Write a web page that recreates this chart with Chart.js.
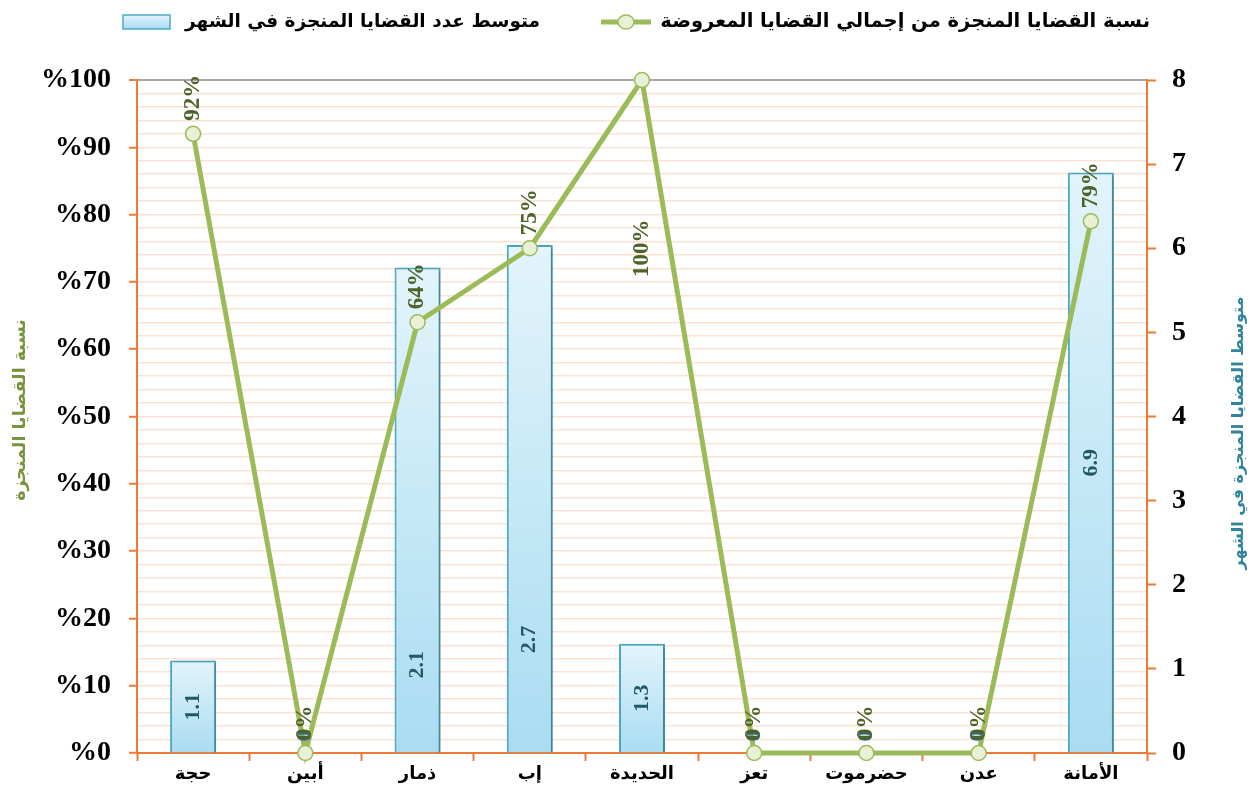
<!DOCTYPE html>
<html>
<head>
<meta charset="utf-8">
<script src="https://cdn.jsdelivr.net/npm/chart.js@4/dist/chart.umd.min.js"></script>
<style>
   html, body { margin: 0; padding: 0; background: #fff; }
   #wrap { width: 1255px; height: 791px; position: relative; }
</style>
</head>
<body>
<div id="wrap"><canvas id="chart"></canvas></div>
<script>
// dados
const categories = ['حجة', 'أبين', 'ذمار', 'إب', 'الحديدة', 'تعز', 'حضرموت', 'عدن', 'الأمانة'];
const completionRate = [92, 0, 64, 75, 100, 0, 0, 0, 79];          // %
const avgMonthly = [1.1, 0, 2.1, 2.7, 1.3, 0, 0, 0, 6.9];          // rótulos das barras
const barHeights = [1.1, 0, 5.77, 6.04, 1.3, 0, 0, 0, 6.9];        // altura desenhada das barras
const lineLegend = 'نسبة القضايا المنجزة من إجمالي القضايا المعروضة';
const barLegend = 'متوسط عدد القضايا المنجزة في الشهر';
const leftTitle = 'نسبة القضايا المنجزة';
const rightTitle = 'متوسط القضايا المنجزة في الشهر';

const ORANGE = '#EE7A36';
const GREEN = '#9BBB59';
const SERIF = "'Liberation Serif', 'Times New Roman', serif";
const ARABIC = "'DejaVu Sans', Arial, sans-serif";

function barGradient(ctx, top, bottom) {
   const g = ctx.createLinearGradient(0, top, 0, bottom);
   g.addColorStop(0, '#E3F4FB');
   g.addColorStop(1, '#A9DCF2');
   return g;
}

// ajusta o tamanho da fonte para caber na largura
function fitFont(ctx, text, width, weight, family, start) {
   let size = start;
   ctx.font = weight + ' ' + size + 'px ' + family;
   while (ctx.measureText(text).width > width && size > 8) {
      size -= 0.5;
      ctx.font = weight + ' ' + size + 'px ' + family;
   }
   return size;
}

const extras = {
   id: 'extras',
   beforeDatasetDraw(chart, args) {
      if (args.index === 0) {
         const ctx = chart.ctx;
         ctx.save();
         ctx.shadowColor = 'rgba(0,0,0,0.28)';
         ctx.shadowBlur = 4;
         ctx.shadowOffsetX = 2;
         ctx.shadowOffsetY = 1;
      }
   },
   afterDatasetDraw(chart, args) {
      if (args.index === 0) chart.ctx.restore();
   },
   afterDatasetsDraw(chart) {
      const ctx = chart.ctx;
      const y2 = chart.scales.y2;
      const area = chart.chartArea;

      // rótulos das barras
      const barMeta = chart.getDatasetMeta(0);
      ctx.save();
      ctx.direction = 'ltr';
      ctx.font = 'bold 22px ' + SERIF;
      ctx.textAlign = 'center';
      ctx.textBaseline = 'middle';
      barMeta.data.forEach((bar, i) => {
         const v = avgMonthly[i];
         let y = y2.getPixelForValue(v / 2);
         y = Math.min(y, area.bottom - 17);
         ctx.fillStyle = v === 0 ? '#2A6C86' : '#215968';
         ctx.save();
         ctx.translate(bar.x, y);
         ctx.rotate(-Math.PI / 2);
         ctx.fillText(v === 0 ? '0' : v.toFixed(1), 0, 0);
         ctx.restore();
      });

      // rótulos da linha
      const lineMeta = chart.getDatasetMeta(1);
      ctx.font = 'bold 23px ' + SERIF;
      ctx.fillStyle = '#4F6228';
      ctx.textAlign = 'left';
      lineMeta.data.forEach((pt, i) => {
         const text = completionRate[i] + '%';
         const w = ctx.measureText(text).width;
         let start = pt.y - 13;
         if (start - w < area.top - 10) start = pt.y + 197;
         ctx.save();
         ctx.translate(pt.x, start);
         ctx.rotate(-Math.PI / 2);
         ctx.fillText(text, 0, 0);
         ctx.restore();
      });
      ctx.restore();
   },
   afterDraw(chart) {
      const ctx = chart.ctx;
      ctx.save();
      ctx.textBaseline = 'middle';
      ctx.direction = 'rtl';

      // legenda: linha
      ctx.strokeStyle = GREEN;
      ctx.lineWidth = 5;
      ctx.beginPath();
      ctx.moveTo(601, 22);
      ctx.lineTo(651, 22);
      ctx.stroke();
      ctx.beginPath();
      ctx.ellipse(626, 22, 8, 7, 0, 0, Math.PI * 2);
      ctx.fillStyle = '#E8F0D6';
      ctx.fill();
      ctx.lineWidth = 1.5;
      ctx.stroke();
      fitFont(ctx, lineLegend, 492, 'bold', ARABIC, 24);
      ctx.fillStyle = '#000';
      ctx.textAlign = 'right';
      ctx.fillText(lineLegend, 1150, 22);

      // legenda: barra
      ctx.fillStyle = barGradient(ctx, 15, 29);
      ctx.fillRect(123, 15, 47, 14);
      ctx.strokeStyle = '#4BACC6';
      ctx.lineWidth = 1.5;
      ctx.strokeRect(123, 15, 47, 14);
      fitFont(ctx, barLegend, 360, 'bold', ARABIC, 24);
      ctx.fillStyle = '#000';
      ctx.fillText(barLegend, 540, 22);

      // títulos dos eixos
      ctx.textAlign = 'center';
      ctx.save();
      fitFont(ctx, leftTitle, 184, 'bold', ARABIC, 18);
      ctx.fillStyle = '#77933C';
      ctx.translate(20, 410);
      ctx.rotate(-Math.PI / 2);
      ctx.fillText(leftTitle, 0, 0);
      ctx.restore();
      ctx.save();
      fitFont(ctx, rightTitle, 275, 'bold', ARABIC, 18);
      ctx.fillStyle = '#31849B';
      ctx.translate(1239, 433);
      ctx.rotate(-Math.PI / 2);
      ctx.fillText(rightTitle, 0, 0);
      ctx.restore();
      ctx.restore();
   }
};

new Chart(document.getElementById('chart'), {
   data: {
      labels: categories,
      datasets: [{
         type: 'bar',
         data: barHeights,
         yAxisID: 'y2',
         order: 2,
         barPercentage: 0.41,
         categoryPercentage: 1,
         borderColor: '#4BACC6',
         borderWidth: ctx => (barHeights[ctx.dataIndex] === 0 ? 0 : 2),
         backgroundColor: ctx => {
            const chart = ctx.chart;
            const s = chart.scales.y2;
            if (!chart.chartArea || !s) return '#CDEBF7';
            const v = barHeights[ctx.dataIndex];
            return barGradient(chart.ctx, s.getPixelForValue(v), s.getPixelForValue(0));
         }
      }, {
         type: 'line',
         data: completionRate,
         yAxisID: 'y',
         order: 1,
         borderColor: GREEN,
         borderWidth: 5,
         tension: 0,
         pointRadius: 7.5,
         pointBorderWidth: 1.5,
         pointBorderColor: GREEN,
         pointBackgroundColor: '#E8F0D6',
         clip: false
      }]
   },
   options: {
      responsive: true,
      maintainAspectRatio: false,
      animation: false,
      layout: { padding: { top: 80, left: 0, right: 0, bottom: 0 } },
      plugins: {
         legend: { display: false },
         tooltip: { enabled: false }
      },
      scales: {
         x: {
            offset: true,
            afterFit: s => { s.height = 38; },
            border: { color: ORANGE, width: 2 },
            grid: {
               offset: true,
               drawOnChartArea: false,
               drawTicks: true,
               tickLength: 8,
               tickColor: ORANGE,
               tickWidth: 2
            },
            ticks: {
               color: '#000',
               padding: 3,
               maxRotation: 0,
               font: { family: ARABIC, size: 18, weight: 'bold' }
            }
         },
         y: {
            position: 'left',
            min: 0,
            max: 100,
            afterFit: s => { s.width = 137; },
            border: { color: ORANGE, width: 2 },
            grid: {
               color: c => (c.tick.value === 100 ? '#A6A6A6' : (c.tick.value === 0 ? 'rgba(0,0,0,0)' : '#FBE3D4')),
               lineWidth: c => (c.tick.value === 100 ? 2 : 1.5),
               tickLength: 8,
               tickWidth: 2,
               tickColor: c => (c.tick.value % 10 === 0 ? ORANGE : 'rgba(0,0,0,0)')
            },
            ticks: {
               stepSize: 2,
               autoSkip: false,
               padding: 18,
               color: '#000',
               font: { family: SERIF, size: 28, weight: 'bold' },
               callback: v => (v % 10 === 0 ? '%' + v : '')
            }
         },
         y2: {
            position: 'right',
            min: 0,
            max: 8,
            afterFit: s => { s.width = 108; },
            border: { color: ORANGE, width: 2 },
            grid: {
               drawOnChartArea: false,
               tickLength: 9,
               tickWidth: 2,
               tickColor: ORANGE
            },
            ticks: {
               stepSize: 1,
               padding: 16,
               color: '#000',
               font: { family: SERIF, size: 28, weight: 'bold' }
            }
         }
      }
   },
   plugins: [extras]
});
</script>
</body>
</html>
